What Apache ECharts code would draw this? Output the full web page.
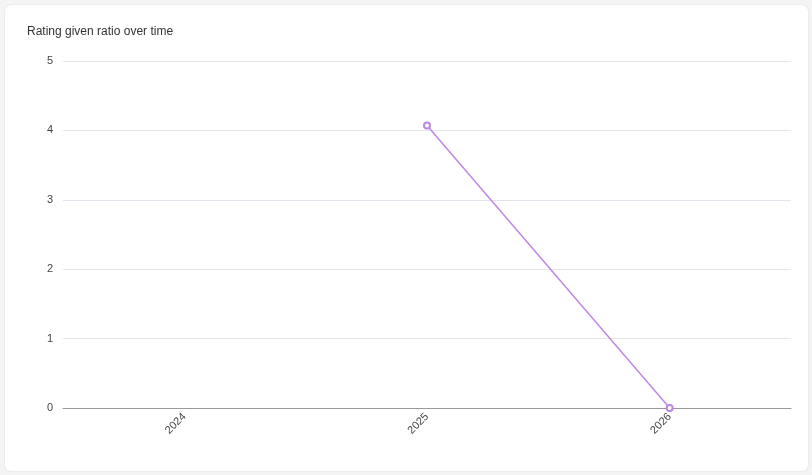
<!DOCTYPE html>
<html>
<head>
<meta charset="utf-8">
<script src="https://cdn.jsdelivr.net/npm/echarts@6/dist/echarts.min.js"></script>
<style>
  html, body { margin: 0; padding: 0; background: #f4f4f5; width: 812px; height: 475px; overflow: hidden; }
  #card { position: absolute; left: 5px; top: 5px; width: 803px; height: 466px; background: #fff; border-radius: 6px; box-shadow: 0 0 2px rgba(0,0,0,0.12); }
  #chart { width: 803px; height: 466px; }
</style>
</head>
<body>
<div id="card"><div id="chart"></div></div>
<script>
const titleText = 'Rating given ratio over time';
const categories = ['2024', '2025', '2026'];
const values = [null, 4.07, 0];
const yTicks = { min: 0, max: 5, interval: 1 };

const chart = echarts.init(document.getElementById('chart'), null, { renderer: 'canvas' });
chart.setOption({
  animation: false,
  title: {
    text: titleText,
    left: 17, top: 16,
    textStyle: { fontFamily: 'Helvetica, Arial, "Liberation Sans", sans-serif', fontSize: 12, fontWeight: 'normal', color: '#333' }
  },
  grid: { left: 58, right: 17, top: 56, bottom: 63 },
  xAxis: {
    type: 'category',
    data: categories,
    boundaryGap: true,
    axisLine: { lineStyle: { color: '#999', width: 1 } },
    axisTick: { show: false },
    axisLabel: { rotate: 45, color: '#444', fontSize: 11, margin: 7, fontFamily: 'Helvetica, Arial, "Liberation Sans", sans-serif' }
  },
  yAxis: {
    type: 'value',
    min: yTicks.min, max: yTicks.max, interval: yTicks.interval,
    axisLine: { show: false },
    axisTick: { show: false },
    splitLine: { lineStyle: { color: '#e4e4ec', width: 1 } },
    axisLabel: { color: '#444', fontSize: 11, margin: 10, fontFamily: 'Helvetica, Arial, "Liberation Sans", sans-serif' }
  },
  series: [{
    type: 'line',
    data: values,
    connectNulls: false,
    symbol: 'emptyCircle',
    symbolSize: 6,
    showSymbol: true,
    lineStyle: { color: '#bc88e2', width: 1.5 },
    itemStyle: { color: '#bc88e2', borderWidth: 1.5 }
  }]
});
</script>
</body>
</html>
